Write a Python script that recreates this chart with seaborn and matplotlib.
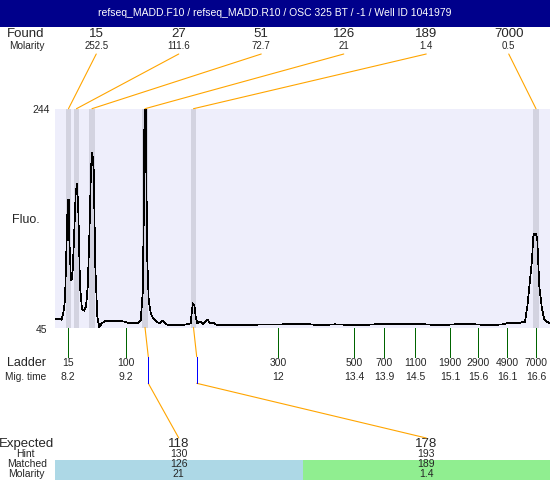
import matplotlib
matplotlib.use("Agg")
import matplotlib.pyplot as plt
import matplotlib.transforms as mtransforms
from matplotlib.patches import Rectangle, ConnectionPatch
from matplotlib.lines import Line2D
import seaborn as sns

# ---- data ----
title = "refseq_MADD.F10 / refseq_MADD.R10 / OSC 325 BT / -1 / Well ID 1041979"

found_sizes = [15, 27, 51, 126, 189, 7000]
found_molarity = [252.5, 111.6, 72.7, 21, 1.4, 0.5]
found_times = [8.204, 8.348, 8.628, 9.585, 10.460, 16.641]

ladder_sizes = [15, 100, 300, 500, 700, 1100, 1900, 2900, 4900, 7000]
ladder_times = [8.200, 9.242, 11.985, 13.357, 13.898, 14.458, 15.089, 15.595, 16.118, 16.640]
ladder_labels = ["8.2", "9.2", "12", "13.4", "13.9", "14.5", "15.1", "15.6", "16.1", "16.6"]

expected_sizes = [118, 178]
hint_sizes = [130, 193]
hint_times = [9.644, 10.518]
matched_sizes = [126, 189]
matched_molarity = [21, 1.4]
matched_times = [9.585, 10.460]

trace_time = [7.961, 8.020, 8.081, 8.110, 8.141, 8.172, 8.190, 8.208, 8.219, 8.249,
              8.273, 8.303, 8.334, 8.358, 8.381, 8.412, 8.448, 8.484, 8.520, 8.551,
              8.580, 8.611, 8.634, 8.659, 8.688, 8.724, 8.760, 8.803, 8.881, 9.074,
              9.224, 9.301, 9.374, 9.464, 9.507, 9.543, 9.561, 9.572, 9.579, 9.597,
              9.608, 9.626, 9.652, 9.688, 9.735, 9.796, 9.843, 9.904, 9.946, 10.005,
              10.247, 10.410, 10.433, 10.451, 10.475, 10.500, 10.529, 10.577, 10.637, 10.709,
              10.758, 10.817, 10.890, 11.480, 12.111, 12.563, 12.743, 13.014, 13.465, 13.736,
              14.367, 14.638, 14.909, 15.180, 15.541, 15.811, 16.051, 16.112, 16.293, 16.443,
              16.484, 16.533, 16.569, 16.592, 16.605, 16.641, 16.665, 16.701, 16.744, 16.786,
              16.834, 16.894]
trace_fluo = [52.7, 53.0, 52.1, 57.9, 70.0, 126.1, 161.0, 161.0, 124.6, 88.2,
              89.7, 124.6, 167.0, 176.1, 151.9, 82.2, 61.5, 60.3, 63.9, 82.2,
              127.6, 191.3, 204.0, 188.2, 100.3, 54.9, 45.0, 48.8, 51.2, 51.2,
              50.3, 48.8, 49.4, 48.8, 51.8, 76.1, 139.8, 221.6, 246.0, 246.0,
              191.3, 106.4, 70.0, 57.9, 53.0, 50.3, 48.8, 51.2, 48.8, 47.0,
              47.0, 48.8, 60.9, 67.0, 65.5, 54.9, 48.8, 50.3, 48.2, 52.1,
              49.4, 49.4, 47.0, 47.5, 47.9, 47.9, 47.0, 47.9, 47.0, 47.9,
              47.9, 47.9, 47.0, 47.9, 47.9, 47.0, 47.9, 48.8, 48.8, 50.3,
              63.9, 88.2, 106.4, 127.6, 130.0, 130.6, 124.6, 82.2, 63.9, 53.0,
              50.3, 48.8]

sns.set_style("white")
plt.rcParams['font.family'] = ['Liberation Sans', 'DejaVu Sans']
plt.rcParams['patch.antialiased'] = False

W, H = 550, 480
fig = plt.figure(figsize=(W / 100, H / 100), dpi=100)


def fy(px):
    return 1 - px / H


def link(xyA, cA, xyB, cB):
    # thin orange connector between two points given in different coordinate systems
    fig.add_artist(ConnectionPatch(xyA=xyA, coordsA=cA, xyB=xyB, coordsB=cB,
                                   color="orange", lw=0.8, antialiased=True))


ax = fig.add_axes([55 / W, fy(327.5), 495 / W, (327.5 - 108.7) / H])
ax.set_facecolor("#EEEEFB")

for t in found_times:
    ax.axvspan(t - 0.05, t + 0.05, color="#D3D3E0", lw=0, zorder=1)

sns.lineplot(x=trace_time, y=trace_fluo, ax=ax, color="black", linewidth=0.5,
             zorder=3, antialiased=False)

ax.set_xlim(7.9605, 16.894)
ax.set_ylim(45, 244)
ax.set_xticks([])
ax.set_yticks([])
ax.set_xlabel("")
ax.set_ylabel("")
for s in ax.spines.values():
    s.set_visible(False)

trans_top = mtransforms.blended_transform_factory(ax.transAxes, fig.transFigure)
trans_bot = mtransforms.blended_transform_factory(ax.transData, fig.transFigure)

# title bar
fig.add_artist(Rectangle((0, fy(27)), 1, 27 / H, transform=fig.transFigure,
                         color="#00008B", lw=0))
fig.text(0.5, fy(13.5), title, color="white", fontsize=7.5, ha="center", va="center")

# left labels
fig.text(26 / W, fy(34), "Found", fontsize=9.5, ha="center", va="center")
fig.text(27 / W, fy(46.3), "Molarity", fontsize=7.3, ha="center", va="center")
fig.text(41 / W, fy(110), "244", fontsize=7.5, ha="center", va="center")
fig.text(41 / W, fy(330), "45", fontsize=7.5, ha="center", va="center")
fig.text(26 / W, fy(220), "Fluo.", fontsize=9, ha="center", va="center")
fig.text(27 / W, fy(363.3), "Ladder", fontsize=9, ha="center", va="center")
fig.text(26 / W, fy(376.7), "Mig. time", fontsize=7.3, ha="center", va="center")
fig.text(27 / W, fy(444), "Expected", fontsize=9.5, ha="center", va="center")
fig.text(25.5 / W, fy(454.3), "Hint", fontsize=7.5, ha="center", va="center")
fig.text(26.7 / W, fy(464.3), "Matched", fontsize=7.5, ha="center", va="center")
fig.text(26.8 / W, fy(474), "Molarity", fontsize=7.5, ha="center", va="center")

# found peaks on top
n = len(found_sizes)
for i, (size, mol, t) in enumerate(zip(found_sizes, found_molarity, found_times)):
    xa = (i + 0.5) / n
    ax.text(xa, fy(34), str(size), transform=trans_top, fontsize=9.5, ha="center", va="center")
    ax.text(xa, fy(46.3), f"{mol:g}", transform=trans_top, fontsize=7, ha="center", va="center")
    link((xa, fy(54)), trans_top, (t, 244), ax.transData)

# ladder ticks and labels
for size, t, lab in zip(ladder_sizes, ladder_times, ladder_labels):
    fig.add_artist(Line2D([t, t], [fy(327.5), fy(356.7)], transform=trans_bot,
                          color="darkgreen", lw=0.72, antialiased=False))
    ax.text(t, fy(363.3), str(size), transform=trans_bot, fontsize=7.5, ha="center", va="center")
    ax.text(t, fy(376.7), lab, transform=trans_bot, fontsize=7.5, ha="center", va="center")

# expected / matched table
row_colors = ["lightblue", "lightgreen"]
m = len(expected_sizes)
for j in range(m):
    xa = (j + 0.5) / m
    fig.add_artist(Rectangle((j / m, 0), 1 / m, 20 / H, transform=trans_top,
                             color=row_colors[j], lw=0, zorder=0))
    ax.text(xa, fy(444), str(expected_sizes[j]), transform=trans_top, fontsize=9.5, ha="center", va="center")
    ax.text(xa, fy(454.3), str(hint_sizes[j]), transform=trans_top, fontsize=7.5, ha="center", va="center")
    ax.text(xa, fy(464.3), str(matched_sizes[j]), transform=trans_top, fontsize=7.5, ha="center", va="center")
    ax.text(xa, fy(474), f"{matched_molarity[j]:g}", transform=trans_top, fontsize=7.5, ha="center", va="center")
    th = hint_times[j]
    link((matched_times[j], 45), ax.transData, (th, fy(356.7)), trans_bot)
    fig.add_artist(Line2D([th, th], [fy(356.7), fy(383.3)], transform=trans_bot,
                          color="blue", lw=0.72, antialiased=False))
    link((th, fy(383.3)), trans_bot, (xa, fy(438)), trans_top)

fig.savefig("out.png", dpi=100)
